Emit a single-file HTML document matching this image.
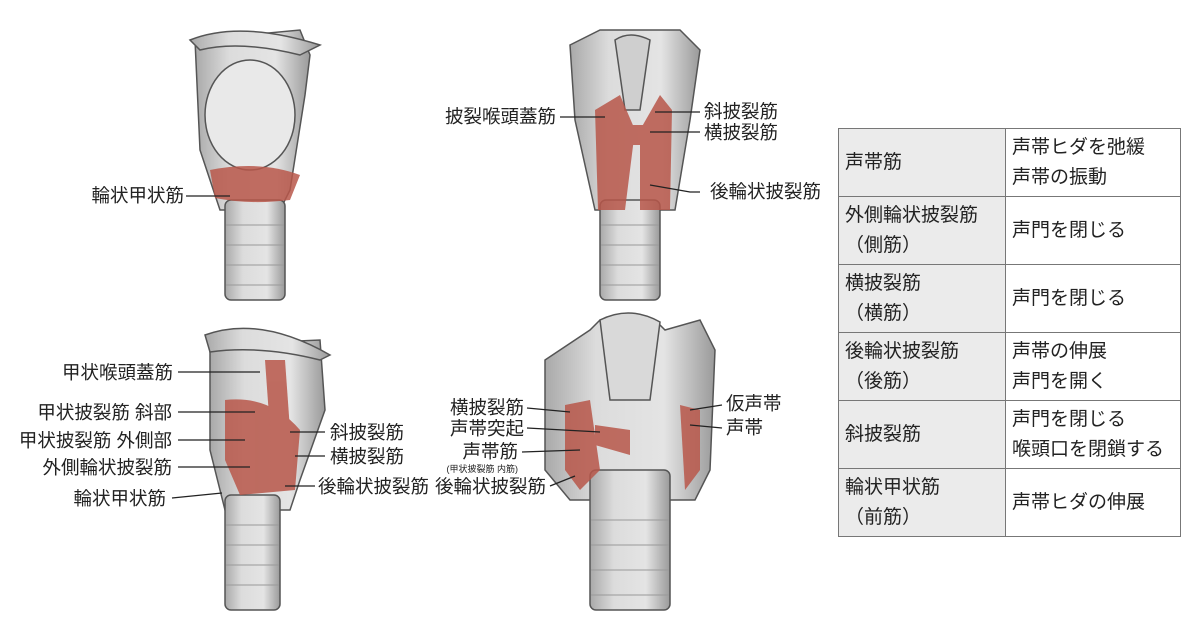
<!DOCTYPE html>
<html><head><meta charset="utf-8"><style>
body{margin:0;width:1200px;height:636px;background:#fff;overflow:hidden;position:relative;font-family:"Liberation Sans","Noto Sans CJK JP",sans-serif;}
svg{position:absolute;left:0;top:0}
table{position:absolute;left:838px;top:128px;border-collapse:collapse;font-size:19px;color:#222}
td{border:1px solid #777;height:67px;padding:0 0 0 6px;line-height:30px;vertical-align:middle}
td.l{background:#ebebeb;width:160px}
td.r{width:168px}
</style></head><body>
<svg width="1200" height="636" viewBox="0 0 1200 636" font-family="Liberation Sans, Noto Sans CJK JP, sans-serif" font-size="18.5" fill="#222">
<defs><linearGradient id="g" x1="0" x2="1"><stop offset="0" stop-color="#a9a9a9"/><stop offset=".3" stop-color="#dcdcdc"/><stop offset=".7" stop-color="#e4e4e4"/><stop offset="1" stop-color="#9a9a9a"/></linearGradient></defs>
<g stroke="#555" stroke-width="1.5" fill="url(#g)">
<path d="M195 40 L300 30 L310 55 L305 95 L290 190 L280 210 H220 L200 150 Z"/>
<path d="M190 40 Q240 20 320 45 L300 55 Q240 40 200 50Z"/>
<rect x="225" y="200" width="60" height="100" rx="6"/>
<ellipse cx="250" cy="115" rx="45" ry="55" fill="#e9e9e9"/>
<path d="M570 45 L600 30 H680 L700 50 L690 120 L675 210 H595 L575 120 Z"/>
<rect x="600" y="200" width="60" height="100" rx="6"/>
<path d="M615 40 Q630 30 650 40 L640 110 H625 Z" fill="#cfcfcf"/>
<path d="M210 345 L320 340 L325 410 L300 480 L290 510 H225 L210 450 Z"/>
<path d="M205 335 Q260 315 330 355 L320 360 Q260 345 210 352Z"/>
<rect x="225" y="495" width="55" height="115" rx="6"/>
<path d="M545 360 L590 330 L600 320 Q630 310 655 320 L665 330 L700 320 L715 350 L710 470 L695 500 H570 L545 470 Z"/>
<rect x="590" y="470" width="80" height="140" rx="6"/>
<path d="M600 320 Q630 305 660 322 L650 400 H610Z" fill="#d9d9d9"/>
</g>
<g stroke="#999" stroke-width="1" fill="none">
<path d="M226 225 H284 M226 245 H284 M226 265 H284 M226 285 H284"/>
<path d="M601 225 H659 M601 245 H659 M601 265 H659 M601 285 H659"/>
<path d="M226 525 H279 M226 545 H279 M226 565 H279 M226 585 H279"/>
<path d="M591 520 H669 M591 545 H669 M591 570 H669 M591 595 H669"/>
</g>
<g fill="#b8574a" opacity=".85">
<path d="M210 170 Q260 160 300 175 L290 200 Q250 205 215 198Z"/>
<path d="M595 110 L620 95 L635 130 L625 210 L598 210Z"/>
<path d="M640 130 L660 95 L672 110 L670 210 L640 210Z"/>
<path d="M612 125 H660 V145 H612Z"/>
<path d="M225 400 Q270 395 300 430 L295 490 L240 495 L225 460Z"/>
<path d="M265 360 L285 360 L290 430 L270 430Z"/>
<path d="M565 405 L590 400 L600 470 L580 490 L565 470Z"/>
<path d="M680 405 L700 410 L700 470 L685 490Z"/>
<path d="M595 425 L630 430 L630 455 L595 445Z"/>
</g>
<g stroke="#222" stroke-width="1.3" fill="none">
<path d="M186 196 H230"/><path d="M560 117 H605"/><path d="M655 112 H700"/><path d="M650 132 H700"/><path d="M650 185 L690 192 H700"/>
<path d="M178 372 H260"/><path d="M178 412 H255"/><path d="M178 440 H245"/><path d="M178 467 H250"/><path d="M172 498 L222 493"/>
<path d="M325 432 H290"/><path d="M325 456 H295"/><path d="M315 486 H285"/>
<path d="M527 408 L570 412"/><path d="M527 428 L600 432"/><path d="M522 452 L580 450"/><path d="M550 486 L575 476"/>
<path d="M722 405 L690 410"/><path d="M722 428 L690 425"/>
</g>
<g text-anchor="end">
<text x="184" y="202">輪状甲状筋</text>
<text x="556" y="123">披裂喉頭蓋筋</text>
<text x="173" y="379">甲状喉頭蓋筋</text>
<text x="172" y="419">甲状披裂筋 斜部</text>
<text x="172" y="447">甲状披裂筋 外側部</text>
<text x="172" y="474">外側輪状披裂筋</text>
<text x="166" y="505">輪状甲状筋</text>
<text x="524" y="414">横披裂筋</text>
<text x="524" y="435">声帯突起</text>
<text x="518" y="458">声帯筋</text>
<text x="518" y="472" font-size="9">(甲状披裂筋 内筋)</text>
<text x="546" y="493">後輪状披裂筋</text>
</g>
<text x="704" y="118">斜披裂筋</text>
<text x="704" y="139">横披裂筋</text>
<text x="710" y="198">後輪状披裂筋</text>
<text x="330" y="439">斜披裂筋</text>
<text x="330" y="463">横披裂筋</text>
<text x="318" y="493">後輪状披裂筋</text>
<text x="726" y="410">仮声帯</text>
<text x="726" y="434">声帯</text>
</svg>
<table>
<tr><td class="l">声帯筋</td><td class="r">声帯ヒダを弛緩<br>声帯の振動</td></tr>
<tr><td class="l">外側輪状披裂筋<br>（側筋）</td><td class="r">声門を閉じる</td></tr>
<tr><td class="l">横披裂筋<br>（横筋）</td><td class="r">声門を閉じる</td></tr>
<tr><td class="l">後輪状披裂筋<br>（後筋）</td><td class="r">声帯の伸展<br>声門を開く</td></tr>
<tr><td class="l">斜披裂筋</td><td class="r">声門を閉じる<br>喉頭口を閉鎖する</td></tr>
<tr><td class="l">輪状甲状筋<br>（前筋）</td><td class="r">声帯ヒダの伸展</td></tr>
</table>
</body></html>
